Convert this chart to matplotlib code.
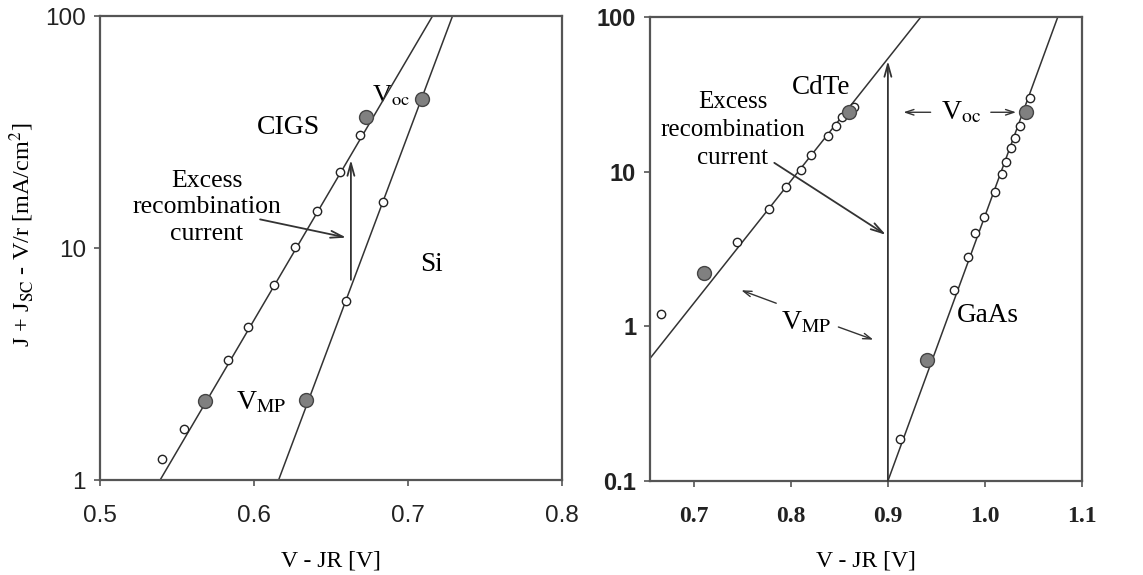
import matplotlib
matplotlib.use("Agg")
import matplotlib.pyplot as plt
from matplotlib.ticker import FixedLocator, NullLocator, FixedFormatter

# --- data ---
# left panel: CIGS and Si
cigs_v = [0.540, 0.5545, 0.583, 0.596, 0.613, 0.627, 0.641, 0.656, 0.669]
cigs_j = [1.23, 1.66, 3.29, 4.56, 6.93, 10.1, 14.4, 21.3, 30.7]
cigs_key_v = [0.568, 0.673]          # V_MP, V_oc
cigs_key_j = [2.19, 36.7]
cigs_fit_v = [0.539, 0.716]
cigs_fit_j = [1.0, 100.0]

si_v = [0.660, 0.684]
si_j = [5.9, 15.8]
si_key_v = [0.634, 0.709]
si_key_j = [2.21, 43.9]
si_fit_v = [0.616, 0.729]
si_fit_j = [1.0, 100.0]

# right panel: CdTe and GaAs
cdte_v = [0.666, 0.745, 0.778, 0.795, 0.811, 0.821, 0.838, 0.847, 0.853, 0.865]
cdte_j = [1.21, 3.5, 5.76, 8.0, 10.3, 12.9, 16.9, 19.6, 22.4, 26.1]
cdte_key_v = [0.711, 0.860]
cdte_key_j = [2.21, 24.2]
cdte_fit_v = [0.655, 0.934]
cdte_fit_j = [0.62, 100.0]

gaas_v = [0.912, 0.968, 0.982, 0.990, 0.999, 1.010, 1.018, 1.022, 1.027, 1.031, 1.036, 1.046]
gaas_j = [0.187, 1.71, 2.8, 4.0, 5.1, 7.4, 9.6, 11.6, 14.3, 16.6, 19.6, 29.8]
gaas_key_v = [0.940, 1.042]
gaas_key_j = [0.61, 24.2]
gaas_fit_v = [0.900, 1.075]
gaas_fit_j = [0.1, 100.0]

left_xticks = [0.5, 0.6, 0.7, 0.8]
left_yticks = [1, 10, 100]
right_xticks = [0.7, 0.8, 0.9, 1.0, 1.1]
right_xlabels = ['0.7', '0.8', '0.9', '1.0', '1.1']
right_yticks = [0.1, 1, 10, 100]
right_ylabels = ['0.1', '1', '10', '100']

plt.rcParams['font.family'] = ['Liberation Serif', 'DejaVu Serif']
plt.rcParams['mathtext.fontset'] = 'stix'

fig = plt.figure(figsize=(11.43, 5.75), dpi=100)
ax1 = fig.add_axes([0.0875, 0.165, 0.404, 0.807])
ax2 = fig.add_axes([0.5687, 0.1635, 0.3780, 0.807])

line_c = '#333333'
spine_c = '#555555'
fill_c = '#808080'


def style_axes(ax):
    ax.set_yscale('log')
    for s in ax.spines.values():
        s.set_color(spine_c)
        s.set_linewidth(1.6)
    ax.yaxis.set_minor_locator(NullLocator())
    ax.xaxis.set_minor_locator(NullLocator())
    ax.tick_params(direction='out', length=4, width=1.2, color=spine_c,
                   top=False, right=False)
    ax.tick_params(axis='x', pad=14)
    ax.tick_params(axis='y', pad=6)


def plot_set(ax, v, j, kv, kj, fv, fj):
    ax.plot(fv, fj, color=line_c, lw=1.1, zorder=2)
    ax.plot(v, j, 'o', ms=6, mfc='white', mec='#222222', mew=1.0, zorder=3)
    ax.plot(kv, kj, 'o', ms=10, mfc=fill_c, mec='#444444', mew=1.0, zorder=4)


arrow_kw = dict(arrowstyle='->,head_length=0.9,head_width=0.25', color='#333333', lw=1.3,
                shrinkA=0, shrinkB=0)

# ---------- left panel ----------
style_axes(ax1)
plot_set(ax1, cigs_v, cigs_j, cigs_key_v, cigs_key_j, cigs_fit_v, cigs_fit_j)
plot_set(ax1, si_v, si_j, si_key_v, si_key_j, si_fit_v, si_fit_j)
ax1.set_xlim(0.5, 0.8)
ax1.set_ylim(1, 100)
ax1.xaxis.set_major_locator(FixedLocator(left_xticks))
ax1.xaxis.set_major_formatter(FixedFormatter([str(t) for t in left_xticks]))
ax1.yaxis.set_major_locator(FixedLocator(left_yticks))
ax1.yaxis.set_major_formatter(FixedFormatter([str(t) for t in left_yticks]))
for lab in ax1.get_xticklabels() + ax1.get_yticklabels():
    lab.set_fontfamily('Liberation Sans')
    lab.set_fontsize(17.5)
    lab.set_color('#222222')

ax1.set_xlabel('V - JR [V]', fontsize=17, labelpad=17)
ax1.set_ylabel(r'J + J$_{\mathrm{SC}}$ - V/r [mA/cm$^2$]', fontsize=17.5)
ax1.yaxis.set_label_coords(-0.138, 0.528)

ax1.text(0.6227, 33.2, 'CIGS', fontsize=20, ha='center', va='center')
ax1.text(0.7156, 8.5, 'Si', fontsize=19.5, ha='center', va='center')
ax1.text(0.5695, 15.0, 'Excess\nrecombination\ncurrent', fontsize=18.5,
         ha='center', va='center', linespacing=1.25)
ax1.text(0.689, 45.6, r'V$_{\mathrm{oc}}$', fontsize=19, ha='center', va='center',
         zorder=1)
ax1.text(0.605, 2.15, r'V$_{\mathrm{MP}}$', fontsize=20, ha='center', va='center')
ax1.annotate('', xy=(0.663, 24.0), xytext=(0.663, 7.3), arrowprops=arrow_kw)
ax1.annotate('', xy=(0.660, 11.1), xytext=(0.604, 13.3), arrowprops=arrow_kw)

# ---------- right panel ----------
style_axes(ax2)
plot_set(ax2, cdte_v, cdte_j, cdte_key_v, cdte_key_j, cdte_fit_v, cdte_fit_j)
plot_set(ax2, gaas_v, gaas_j, gaas_key_v, gaas_key_j, gaas_fit_v, gaas_fit_j)
ax2.set_xlim(0.655, 1.1)
ax2.set_ylim(0.1, 100)
ax2.xaxis.set_major_locator(FixedLocator(right_xticks))
ax2.xaxis.set_major_formatter(FixedFormatter(right_xlabels))
ax2.yaxis.set_major_locator(FixedLocator(right_yticks))
ax2.yaxis.set_major_formatter(FixedFormatter(right_ylabels))
for lab in ax2.get_xticklabels():
    lab.set_fontsize(17)
    lab.set_fontweight('bold')
    lab.set_color('#222222')
for lab in ax2.get_yticklabels():
    lab.set_fontfamily('Liberation Sans')
    lab.set_fontsize(17)
    lab.set_fontweight('bold')
    lab.set_color('#222222')
ax2.set_xlabel('V - JR [V]', fontsize=17, labelpad=17)

ax2.text(0.831, 35.0, 'CdTe', fontsize=19.5, ha='center', va='center')
ax2.text(1.003, 1.18, 'GaAs', fontsize=19.5, ha='center', va='center')
ax2.text(0.740, 18.7, 'Excess\nrecombination\ncurrent', fontsize=18,
         ha='center', va='center', linespacing=1.35)
ax2.text(0.975, 24.2, r'V$_{\mathrm{oc}}$', fontsize=20, ha='center', va='center')
ax2.text(0.816, 1.06, r'V$_{\mathrm{MP}}$', fontsize=20, ha='center', va='center')

ax2.annotate('', xy=(0.9, 52.0), xytext=(0.9, 0.1), arrowprops=arrow_kw)
ax2.annotate('', xy=(0.898, 3.9), xytext=(0.783, 11.4), arrowprops=arrow_kw)
small_kw = dict(arrow_kw, arrowstyle='->,head_length=0.6,head_width=0.2', lw=1.0)
ax2.annotate('', xy=(0.916, 24.2), xytext=(0.944, 24.2), arrowprops=small_kw)
ax2.annotate('', xy=(1.032, 24.2), xytext=(1.006, 24.2), arrowprops=small_kw)
ax2.annotate('', xy=(0.749, 1.71), xytext=(0.785, 1.41), arrowprops=small_kw)
ax2.annotate('', xy=(0.885, 0.82), xytext=(0.849, 0.99), arrowprops=small_kw)

fig.savefig('out.png', dpi=100)
